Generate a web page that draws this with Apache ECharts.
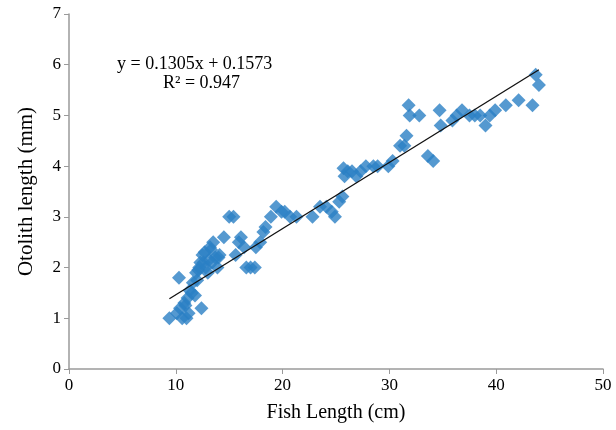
<!DOCTYPE html>
<html>
<head>
<meta charset="utf-8">
<script src="https://cdn.jsdelivr.net/npm/echarts@6/dist/echarts.min.js"></script>
<style>
html,body{margin:0;padding:0;background:#fff;}
#chart{width:616px;height:430px;}
</style>
</head>
<body>
<div id="chart"></div>
<script>
// Fish length (cm)
var fishLength = [9.4,10.1,10.3,10.6,11.0,10.9,11.1,11.3,11.6,11.8,12.0,12.1,12.3,12.4,12.5,12.8,13.1,13.3,13.5,13.7,13.9,14.1,14.5,15.0,15.4,15.6,15.9,16.1,16.4,16.6,17.0,17.4,17.5,17.9,18.2,18.4,18.9,19.4,19.9,20.2,20.7,21.3,22.8,23.5,24.1,24.6,24.9,25.3,25.6,25.7,25.8,26.1,26.5,26.9,27.3,27.8,28.5,28.9,29.9,30.3,31.0,31.4,31.6,31.8,31.9,32.8,33.6,34.1,34.7,34.8,35.9,36.3,36.8,37.5,38.0,38.5,39.0,39.4,39.9,40.9,42.1,43.4,43.7,44.0,
  10.4,10.8,11.5,11.9,12.2,12.6,13.0,13.4,14.0,11.2,12.7,13.2];
// Otolith length (mm)
var otolithLength = [1.0,1.1,1.8,1.0,1.0,1.25,1.4,1.55,1.7,1.45,1.75,1.95,2.1,1.2,2.25,2.0,2.15,2.35,2.5,2.2,2.0,2.25,2.6,3.0,3.0,2.25,2.5,2.6,2.4,2.0,2.0,2.0,2.4,2.5,2.7,2.8,3.0,3.2,3.1,3.1,3.0,3.0,3.0,3.2,3.2,3.1,3.0,3.3,3.4,3.96,3.8,3.9,3.9,3.8,3.9,4.0,4.0,4.0,4.0,4.1,4.4,4.4,4.6,5.2,5.0,5.0,4.2,4.1,5.1,4.8,4.9,5.0,5.1,5.0,5.0,5.0,4.8,5.0,5.1,5.2,5.3,5.2,5.8,5.6,
  1.2,1.3,1.5,1.9,2.0,2.1,1.9,2.1,2.2,1.1,2.3,2.4];
// Linear trendline
var slope = 0.1305, intercept = 0.1573;
var trendRange = [9.4, 44.0];
var xTicks = [0,10,20,30,40,50];
var yTicks = [0,1,2,3,4,5,6,7];

var pts = fishLength.map(function(x,i){return [x, otolithLength[i]];});
var trend = trendRange.map(function(x){return [x, slope*x+intercept];});

var serif = 'Liberation Serif';
var chart = echarts.init(document.getElementById('chart'));
chart.setOption({
  animation:false,
  backgroundColor:'#fff',
  grid:{left:69,right:13,top:14,bottom:61,containLabel:false},
  xAxis:{
    type:'value',min:xTicks[0],max:xTicks[xTicks.length-1],interval:10,
    name:'Fish Length (cm)',nameLocation:'middle',nameGap:34,
    nameTextStyle:{fontFamily:serif,fontSize:20,color:'#000'},
    axisLine:{show:true,lineStyle:{color:'#9a9a9a',width:1.5}},
    axisTick:{show:true,length:5,lineStyle:{color:'#9a9a9a'}},
    axisLabel:{fontFamily:serif,fontSize:17,color:'#000',margin:8},
    splitLine:{show:false}
  },
  yAxis:{
    type:'value',min:yTicks[0],max:yTicks[yTicks.length-1],interval:1,
    name:'Otolith length (mm)',nameLocation:'middle',nameGap:32,
    nameTextStyle:{fontFamily:serif,fontSize:21,color:'#000'},
    axisLine:{show:true,lineStyle:{color:'#9a9a9a',width:1.5}},
    axisTick:{show:true,length:5,lineStyle:{color:'#9a9a9a'}},
    axisLabel:{fontFamily:serif,fontSize:17,color:'#000',margin:8},
    splitLine:{show:false}
  },
  graphic:[{
    type:'text',left:117,top:55,
    style:{text:'y = 0.1305x + 0.1573',fontFamily:serif,fontSize:18,fill:'#000'}
  },{
    type:'text',left:163,top:74,
    style:{text:'R² = 0.947',fontFamily:serif,fontSize:18,fill:'#000'}
  }],
  series:[{
    type:'scatter',data:pts,symbol:'diamond',symbolSize:14,
    itemStyle:{color:'#2a7fc4'},z:2
  },{
    type:'line',data:trend,showSymbol:false,symbol:'none',
    lineStyle:{color:'#111',width:1.3},z:3
  }]
});
</script>
</body>
</html>
